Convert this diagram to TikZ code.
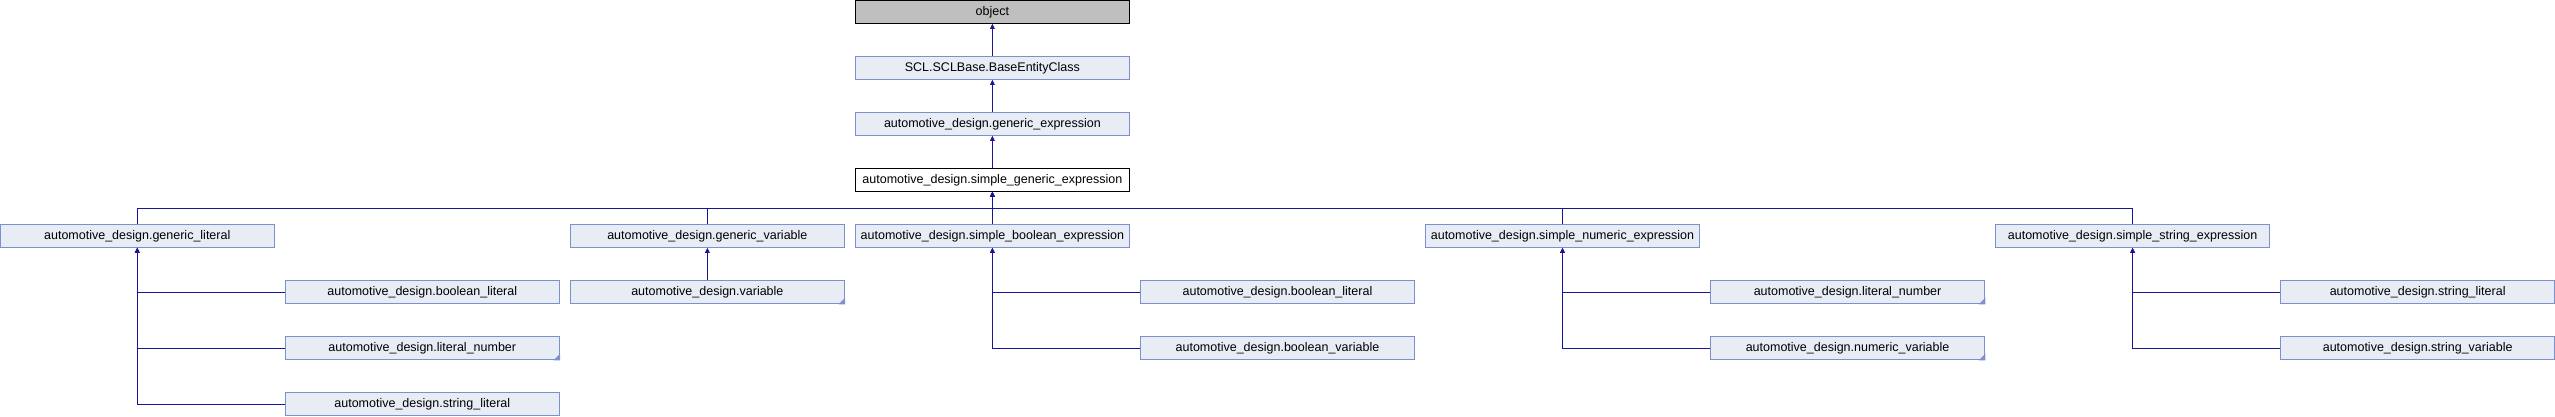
\documentclass[tikz,border=0pt]{standalone}
\usepackage{fontspec}
\setmainfont{Liberation Sans}
\usetikzlibrary{arrows.meta,calc}
\definecolor{edgecol}{RGB}{22,22,150}
\definecolor{bordercol}{RGB}{124,145,204}
\definecolor{fillcol}{RGB}{232,236,245}
\definecolor{greyfill}{RGB}{191,191,191}
\tikzset{
  box/.style={draw=bordercol, fill=fillcol, line width=1pt, minimum width=273.5pt, minimum height=22.5pt,
    inner sep=0pt, text height=9pt, text depth=2.6pt, font=\fontsize{12.5}{15}\selectfont},
  rootbox/.style={box, draw=black, fill=greyfill},
  focusbox/.style={box, draw=black, fill=white},
  edge/.style={draw=edgecol, line width=1pt, -{Triangle[length=5pt,width=4.5pt]}},
  trunc/.style={fill=bordercol}
}
\begin{document}
\begin{tikzpicture}[x=1pt,y=1pt]
\useasboundingbox (0,-416) rectangle (2555,0);
% rows
\node[rootbox]  (obj) at (992.4,-12)  {object};
\node[box]      (scl) at (992.4,-68)  {SCL.SCLBase.BaseEntityClass};
\node[box]      (ge)  at (992.4,-124) {automotive\_design.generic\_expression};
\node[focusbox] (sg)  at (992.4,-180) {automotive\_design.simple\_generic\_expression};
% row 4
\node[box] (gl) at (137.25,-236)  {automotive\_design.generic\_literal};
\node[box] (gv) at (707.35,-236)  {automotive\_design.generic\_variable};
\node[box] (sb) at (992.4,-236)   {automotive\_design.simple\_boolean\_expression};
\node[box] (sn) at (1562.5,-236)  {automotive\_design.simple\_numeric\_expression};
\node[box] (ss) at (2132.6,-236)  {automotive\_design.simple\_string\_expression};
% row 5
\node[box] (glbl) at (422.3,-292)   {automotive\_design.boolean\_literal};
\node[box] (gvv)  at (707.35,-292)  {automotive\_design.variable};
\node[box] (sbbl) at (1277.45,-292) {automotive\_design.boolean\_literal};
\node[box] (snln) at (1847.55,-292) {automotive\_design.literal\_number};
\node[box] (sssl) at (2417.65,-292) {automotive\_design.string\_literal};
% row 6
\node[box] (glln) at (422.3,-348)   {automotive\_design.literal\_number};
\node[box] (sbbv) at (1277.45,-348) {automotive\_design.boolean\_variable};
\node[box] (snnv) at (1847.55,-348) {automotive\_design.numeric\_variable};
\node[box] (sssv) at (2417.65,-348) {automotive\_design.string\_variable};
% row 7
\node[box] (glsl) at (422.3,-404)   {automotive\_design.string\_literal};
% truncation marks
\foreach \n in {gvv,snln,glln,snnv}{
  \fill[trunc] ($(\n.south east)+(0.5,-0.5)$) -- ++(-6.5,0) -- ++(6.5,6.5) -- cycle;
}
% edges upper chain
\draw[edge] (scl.north) -- (obj.south);
\draw[edge] (ge.north) -- (scl.south);
\draw[edge] (sg.north) -- (ge.south);
% bus
\coordinate (bus) at ($(sg.south)+(0,-16.5)$);
\draw[edge] (gl.north) |- (bus) -- (sg.south);
\draw[edge] (gv.north) |- (bus) -- (sg.south);
\draw[edge] (sb.north) -- (sg.south);
\draw[edge] (sn.north) |- (bus) -- (sg.south);
\draw[edge] (ss.north) |- (bus) -- (sg.south);
% children
\draw[edge] (glbl.west) -| (gl.south);
\draw[edge] (glln.west) -| (gl.south);
\draw[edge] (glsl.west) -| (gl.south);
\draw[edge] (gvv.north) -- (gv.south);
\draw[edge] (sbbl.west) -| (sb.south);
\draw[edge] (sbbv.west) -| (sb.south);
\draw[edge] (snln.west) -| (sn.south);
\draw[edge] (snnv.west) -| (sn.south);
\draw[edge] (sssl.west) -| (ss.south);
\draw[edge] (sssv.west) -| (ss.south);
\end{tikzpicture}
\end{document}
